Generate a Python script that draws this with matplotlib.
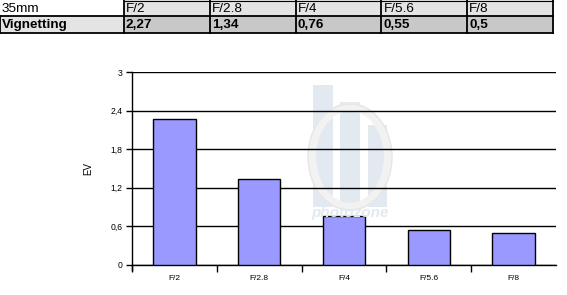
import matplotlib.pyplot as plt
from matplotlib.patches import Ellipse
import numpy as np

# data
apertures = ['F/2', 'F/2.8', 'F/4', 'F/5.6', 'F/8']
vignetting = [2.27, 1.34, 0.76, 0.55, 0.5]
vignetting_txt = ['2,27', '1,34', '0,76', '0,55', '0,5']
yticks = [0, 0.6, 1.2, 1.8, 2.4, 3]
ytick_labels = ['0', '0,6', '1,2', '1,8', '2,4', '3']

plt.rcParams['font.family'] = ['Liberation Sans', 'DejaVu Sans']

W, H = 567, 295
fig = plt.figure(figsize=(W / 100, H / 100), dpi=100)


def fx(px):
    return px / W


def fy(py):
    return 1 - py / H


# table at the top
col_edges = [0, 124] + [124 + 85.8 * (i + 1) for i in range(5)]
row_edges = [0, 16, 33]
light = '#e4e4e4'
dark = '#c8c8c8'
rows = [['35mm'] + apertures, ['Vignetting'] + vignetting_txt]
for r in range(2):
    for c in range(6):
        x0, x1 = col_edges[c], col_edges[c + 1]
        y0, y1 = row_edges[r], row_edges[r + 1]
        if r == 0 and c == 0:
            fc = 'white'
        elif r == 1 and c > 0:
            fc = dark
        else:
            fc = light
        rect = plt.Rectangle((fx(x0), fy(y1)), fx(x1 - x0), (y1 - y0) / H,
                             transform=fig.transFigure, facecolor=fc,
                             edgecolor='none', zorder=1)
        fig.patches.append(rect)
        fig.text(fx(x0 + 2), fy((y0 + y1) / 2 + 0.5), rows[r][c],
                 fontsize=9.7, va='center', ha='left',
                 fontweight='bold' if r == 1 else 'normal', zorder=3)

# table borders
lw = 1.3
for y in row_edges[1:]:
    fig.add_artist(plt.Line2D([0, fx(col_edges[-1])], [fy(y), fy(y)],
                              transform=fig.transFigure, color='black', lw=lw))
fig.add_artist(plt.Line2D([fx(col_edges[1]), fx(col_edges[-1])], [fy(0.5), fy(0.5)],
                          transform=fig.transFigure, color='black', lw=0.8))
for i, x in enumerate(col_edges):
    top = 16 if i == 0 else 0
    fig.add_artist(plt.Line2D([fx(x), fx(x)], [fy(top), fy(33)],
                              transform=fig.transFigure, color='black', lw=lw))

# chart
ax = fig.add_axes([fx(132), fy(265), fx(556 - 132), (265 - 72) / H])
ax.patch.set_alpha(0)

# faint logo watermark behind the grid
for (x0, y0, w, h) in [(313, 85, 20, 122), (340, 102, 20, 105), (368, 125, 19, 82)]:
    ax.add_patch(plt.Rectangle((fx(x0), fy(y0 + h)), fx(w), h / H,
                               transform=fig.transFigure, facecolor='#e2e9f1',
                               edgecolor='none', zorder=0))
ax.add_patch(Ellipse((fx(350), fy(157)), fx(76), 100 / H, transform=fig.transFigure,
                     facecolor='none', edgecolor='#f2f2f2', lw=6, zorder=0.5))
ax.add_patch(Ellipse((fx(350), fy(157)), fx(84), 106 / H, transform=fig.transFigure,
                     facecolor='none', edgecolor='#e6e6e6', lw=1, zorder=0.5))
fig.text(fx(350), fy(213), 'photozone', fontsize=11, style='italic',
         fontweight='bold', color='#e2e9f1', ha='center', va='center', zorder=0)

x = np.arange(len(apertures))
ax.bar(x, vignetting, width=0.5, color='#9999ff', edgecolor='black',
       linewidth=1, zorder=3)
ax.set_xlim(-0.5, len(apertures) - 0.5)
ax.set_ylim(0, 3)
ax.set_yticks(yticks)
ax.set_yticklabels(ytick_labels)
ax.yaxis.grid(True, color='black', lw=1, zorder=1)
ax.set_axisbelow(True)
ax.set_xticks(x)
ax.set_xticklabels(apertures)
ax.tick_params(axis='x', length=0, labelsize=6, pad=7)
ax.tick_params(axis='y', length=4, width=1, labelsize=6.2, pad=3)
ax.set_xticks(np.arange(-0.5, len(apertures) - 1, 1), minor=True)
ax.tick_params(axis='x', which='minor', length=5, width=1)
for s in ['top', 'right']:
    ax.spines[s].set_visible(False)
for s in ['left', 'bottom']:
    ax.spines[s].set_linewidth(1)
ax.spines['left'].set_bounds(-0.08, 3)
ax.set_ylabel('EV', fontsize=7, labelpad=12)

fig.savefig('out.png', dpi=100)
